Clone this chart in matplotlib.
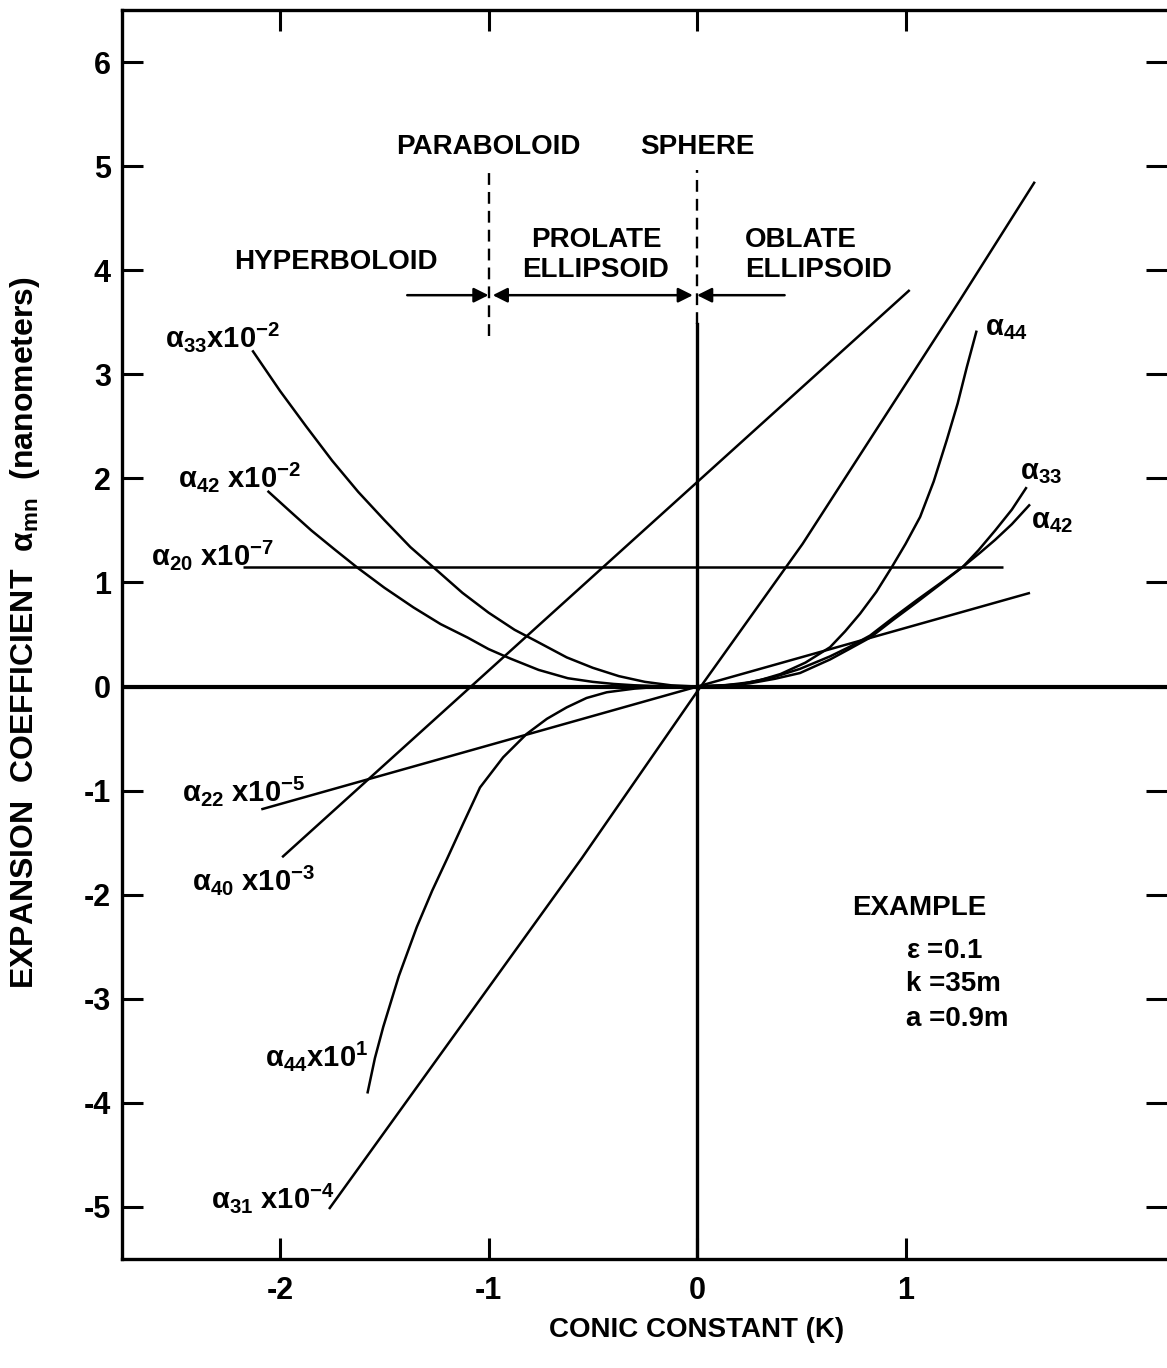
import matplotlib
matplotlib.use("Agg")
import matplotlib.pyplot as plt

plt.rcParams['font.family'] = ['Liberation Sans', 'DejaVu Sans']
plt.rcParams['font.weight'] = 'bold'
plt.rcParams['mathtext.default'] = 'regular'

# curves (K, value)
a33_left_k = [-2.133, -2.0, -1.875, -1.75, -1.625, -1.5, -1.375, -1.265, -1.125,
              -1.0, -0.875, -0.777, -0.625, -0.5, -0.375, -0.25, -0.125, 0]
a33_left_y = [3.23, 2.84, 2.50, 2.17, 1.87, 1.60, 1.34, 1.147, 0.90,
              0.71, 0.545, 0.442, 0.28, 0.18, 0.10, 0.045, 0.012, 0]
a42_left_k = [-2.06, -1.95, -1.85, -1.74, -1.632, -1.5, -1.36, -1.23, -1.1, -1.0,
              -0.897, -0.76, -0.62, -0.5, -0.4, -0.3, -0.2, -0.1, 0]
a42_left_y = [1.88, 1.68, 1.50, 1.32, 1.147, 0.95, 0.76, 0.60, 0.47, 0.36,
              0.27, 0.16, 0.08, 0.045, 0.025, 0.012, 0.005, 0.001, 0]
a20_k = [-2.176, 1.468]
a20_y = [1.15, 1.15]
a22_k = [-2.09, 1.597]
a22_y = [-1.18, 0.90]
a40_k = [-1.99, 1.02]
a40_y = [-1.64, 3.81]
a31_k = [-1.765, -0.553, 0, 0.506, 1.26, 1.62]
a31_y = [-5.02, -1.65, -0.05, 1.37, 3.71, 4.85]
a44_left_k = [-1.581, -1.545, -1.505, -1.43, -1.344, -1.27, -1.2, -1.12, -1.041, -0.93,
              -0.817, -0.72, -0.625, -0.53, -0.433, -0.3, -0.2, -0.1, 0]
a44_left_y = [-3.91, -3.57, -3.27, -2.78, -2.31, -1.96, -1.66, -1.31, -0.97, -0.68,
              -0.455, -0.31, -0.2, -0.11, -0.055, -0.02, -0.005, -0.001, 0]
a44_right_k = [0, 0.2, 0.3, 0.4, 0.52, 0.638, 0.71, 0.782, 0.86, 0.934, 1.0, 1.07,
               1.135, 1.198, 1.25, 1.294, 1.341]
a44_right_y = [0, 0.02, 0.06, 0.12, 0.23, 0.378, 0.53, 0.70, 0.91, 1.147, 1.37, 1.63,
               1.97, 2.37, 2.72, 3.07, 3.42]
a33_right_k = [0, 0.125, 0.25, 0.375, 0.494, 0.638, 0.73, 0.83, 0.94, 1.054, 1.165,
               1.277, 1.35, 1.43, 1.51, 1.581]
a33_right_y = [0, 0.01, 0.04, 0.095, 0.17, 0.29, 0.38, 0.49, 0.66, 0.83, 0.99,
               1.154, 1.31, 1.50, 1.70, 1.916]
a42_right_k = [0, 0.125, 0.25, 0.375, 0.494, 0.638, 0.73, 0.83, 0.94, 1.054, 1.165,
               1.277, 1.36, 1.43, 1.51, 1.597]
a42_right_y = [0, 0.008, 0.03, 0.075, 0.13, 0.26, 0.36, 0.47, 0.64, 0.81, 0.98,
               1.154, 1.29, 1.41, 1.56, 1.75]

curves = [(a33_left_k, a33_left_y), (a42_left_k, a42_left_y), (a20_k, a20_y),
          (a22_k, a22_y), (a40_k, a40_y), (a31_k, a31_y),
          (a44_left_k, a44_left_y), (a44_right_k, a44_right_y),
          (a33_right_k, a33_right_y), (a42_right_k, a42_right_y)]

# curve labels: text, K, value
labels = [
    (r"$\alpha_{33}$x10$^{-2}$", -2.55, 3.36),
    (r"$\alpha_{42}$ x10$^{-2}$", -2.49, 2.01),
    (r"$\alpha_{20}$ x10$^{-7}$", -2.62, 1.26),
    (r"$\alpha_{22}$ x10$^{-5}$", -2.47, -1.0),
    (r"$\alpha_{40}$ x10$^{-3}$", -2.42, -1.86),
    (r"$\alpha_{44}$x10$^{1}$", -2.07, -3.55),
    (r"$\alpha_{31}$ x10$^{-4}$", -2.33, -4.91),
    (r"$\alpha_{44}$", 1.38, 3.44),
    (r"$\alpha_{33}$", 1.55, 2.06),
    (r"$\alpha_{42}$", 1.60, 1.59),
]

xticks = [-2, -1, 0, 1]
xtick_labels = ["-2", "-1", "0", "1"]
yticks = list(range(-5, 7))
ytick_labels = [str(v) for v in yticks]

fig = plt.figure(figsize=(11.67, 13.68), dpi=100)
ax = fig.add_axes([122 / 1167, 1 - 1259 / 1368, 1 - 122 / 1167, 1249 / 1368])
ax.set_xlim(-2.758, 2.254)
ax.set_ylim(-5.5, 6.5)

for k, y in curves:
    ax.plot(k, y, color='black', lw=1.8, solid_capstyle='butt', solid_joinstyle='round')

ax.axhline(0, color='black', lw=3)
ax.plot([0, 0], [-5.5, 3.48], color='black', lw=2.4)
ax.plot([-1, -1], [3.37, 4.96], color='black', lw=1.7, ls=(0, (5, 3)))
ax.plot([0, 0], [3.48, 4.96], color='black', lw=1.7, ls=(0, (5, 3)))

arrow_y = 3.76
aprops = dict(arrowstyle='-|>', color='black', lw=1.8, mutation_scale=22, shrinkA=0, shrinkB=0)
ax.annotate("", xy=(-1.0, arrow_y), xytext=(-1.39, arrow_y), arrowprops=aprops)
ax.annotate("", xy=(0.0, arrow_y), xytext=(0.42, arrow_y), arrowprops=aprops)
ax.annotate("", xy=(-0.02, arrow_y), xytext=(-0.98, arrow_y),
            arrowprops=dict(aprops, arrowstyle='<|-|>'))

ts = 20
ax.text(-1.0, 5.18, "PARABOLOID", ha='center', va='center', fontsize=ts)
ax.text(0.0, 5.18, "SPHERE", ha='center', va='center', fontsize=ts)
ax.text(-0.485, 4.29, "PROLATE", ha='center', va='center', fontsize=ts)
ax.text(-0.485, 4.0, "ELLIPSOID", ha='center', va='center', fontsize=ts)
ax.text(0.23, 4.29, "OBLATE", ha='left', va='center', fontsize=ts)
ax.text(0.23, 4.0, "ELLIPSOID", ha='left', va='center', fontsize=ts)
ax.text(-1.73, 4.08, "HYPERBOLOID", ha='center', va='center', fontsize=ts)

for txt, k, y in labels:
    ax.text(k, y, txt, ha='left', va='center', fontsize=21)

ax.text(0.746, -2.125, "EXAMPLE", ha='left', va='center', fontsize=ts)
ax.text(1.0, -2.54, r"$\epsilon$ =0.1", ha='left', va='center', fontsize=ts)
ax.text(1.0, -2.86, "k =35m", ha='left', va='center', fontsize=ts)
ax.text(1.0, -3.19, "a =0.9m", ha='left', va='center', fontsize=ts)

ax.set_xticks(xticks, xtick_labels)
ax.set_yticks(yticks, ytick_labels)
ax.tick_params(direction='in', length=15, width=2.2, top=True, right=True,
               labelsize=22, pad=8)
ax.tick_params(axis='x', pad=12)
for side in ['left', 'bottom', 'top']:
    ax.spines[side].set_linewidth(2.4)
ax.spines['right'].set_visible(False)

fig.text(697 / 1167, 1 - 1330 / 1368, "CONIC CONSTANT (K)", ha='center', va='center', fontsize=20)
fig.text(25 / 1167, 1 - 633 / 1368, r"EXPANSION  COEFFICIENT  $\alpha_{mn}$  (nanometers)",
         ha='center', va='center', rotation=90, fontsize=23)

fig.savefig("out.png", dpi=100)
